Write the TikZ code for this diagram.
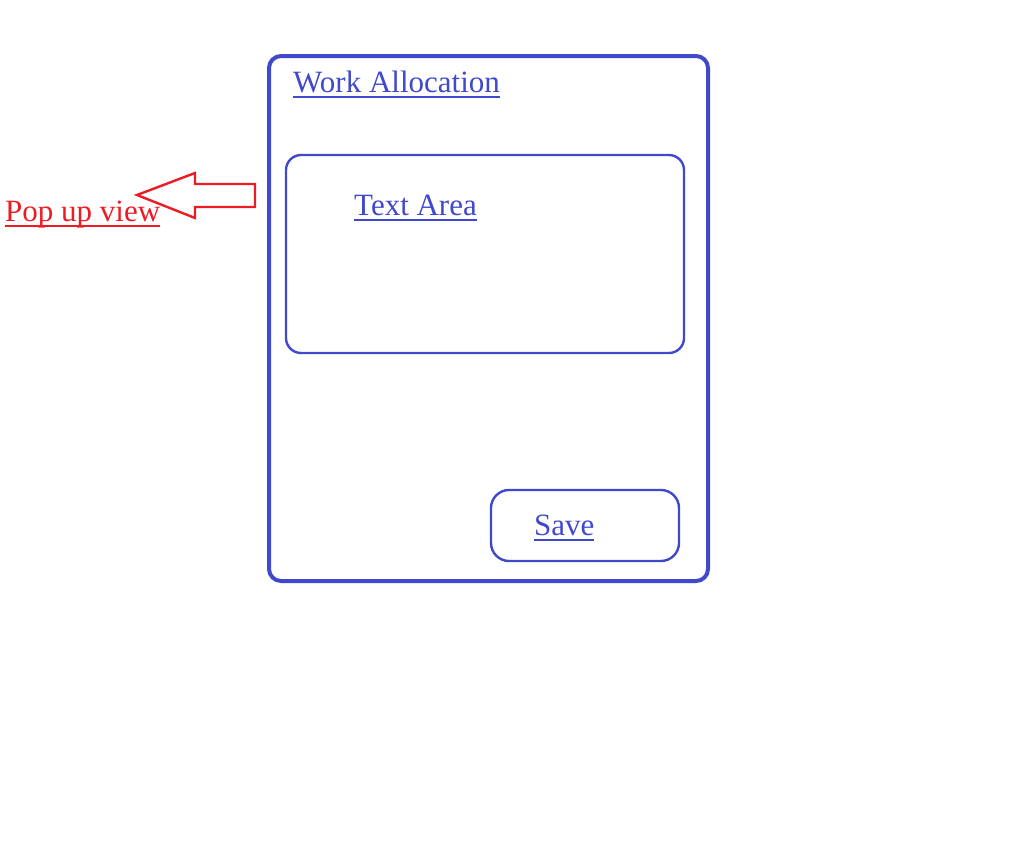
\documentclass[tikz,border=0pt]{standalone}
\usepackage{fontspec}
\setmainfont{Liberation Serif}
\usetikzlibrary{positioning}

\definecolor{mockblue}{RGB}{64,72,204}
\definecolor{mockred}{RGB}{237,28,36}
% underlined caption, rule a little below the baseline
\newcommand{\ulabel}[1]{\setbox0\hbox{#1}\rlap{\rule[-6pt]{\wd0}{1.8pt}}\box0}

\begin{document}
\begin{tikzpicture}
[
  x=1pt, y=-1pt,
  frame/.style={draw=mockblue, rounded corners=12pt, line width=4pt, inner sep=0pt, outer sep=0pt, anchor=north west},
  panel/.style={draw=mockblue, rounded corners=15pt, line width=2.4pt, inner sep=0pt, outer sep=0pt, anchor=north west},
  caption/.style={anchor=base west, inner sep=0pt, text=mockblue, font=\fontsize{31}{35}\selectfont},
  pointer/.style={draw=mockred, line width=2.4pt}
]
 \useasboundingbox (0,0) rectangle (1018,865);

 \node[frame, minimum width=439pt, minimum height=525pt] (popup) at (269,56) {};
 \node[panel, minimum width=398pt, minimum height=198pt] (textbox) at (286,155) {};
 \node[panel, rounded corners=18pt, minimum width=188pt, minimum height=71pt] (savebtn) at (491,490) {};

 \node[caption, xshift=24pt, yshift=-36pt] (title) at (popup.north west) {\ulabel{Work Allocation}};
 \node[caption, xshift=68pt, yshift=-60pt] (textlbl) at (textbox.north west) {\ulabel{Text Area}};
 \node[caption, xshift=43pt, yshift=-45pt] (savelbl) at (savebtn.north west) {\ulabel{Save}};
 \node[caption, text=mockred] (note) at (5,221) {\ulabel{Pop up view}};

 % hollow arrow pointing at the popup
 \draw[pointer] (137,195) -- (195,173) -- (195,184) -- (255,184)
   -- (255,207) -- (195,207) -- (195,218) -- cycle;
\end{tikzpicture}
\end{document}
